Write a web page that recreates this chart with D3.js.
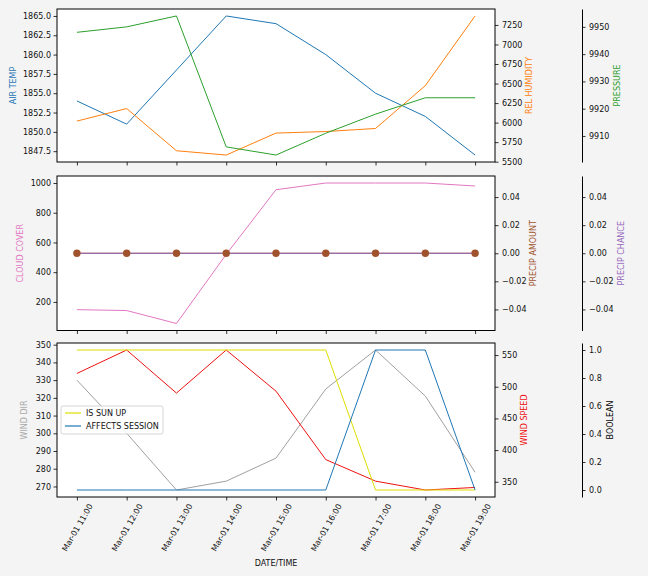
<!DOCTYPE html>
<html><head><meta charset="utf-8">
<script src="https://cdn.jsdelivr.net/npm/d3@7"></script>
<style>
body{margin:0;background:#f4f4f4}
svg{display:block}
text{font-family:"DejaVu Sans",sans-serif}
</style>
</head><body>
<svg id="c" width="648" height="576"></svg>
<script>
// ---------------- data ----------------
const times = ["Mar-01 11:00","Mar-01 12:00","Mar-01 13:00","Mar-01 14:00","Mar-01 15:00","Mar-01 16:00","Mar-01 17:00","Mar-01 18:00","Mar-01 19:00"];
const airTemp       = [1854, 1851, 1858, 1865, 1864, 1860, 1855, 1852, 1847];
const relHumidity   = [6020, 6180, 5640, 5585, 5866, 5886, 5925, 6473, 7365];
const pressure      = [9948, 9950, 9954, 9906, 9903, 9911, 9918, 9924, 9924];
const cloudCover    = [148, 142, 55, 520, 955, 1000, 1000, 1000, 980];
const precipAmount  = [0, 0, 0, 0, 0, 0, 0, 0, 0];
const precipChance  = [0, 0, 0, 0, 0, 0, 0, 0, 0];
const windDir       = [330, 300, 268, 273, 286, 325, 347, 321, 278];
const windSpeed     = [521, 558, 490, 558, 493, 385, 351, 337, 341];
const isSunUp       = [1, 1, 1, 1, 1, 1, 0, 0, 0];
const affectsSession= [0, 0, 0, 0, 0, 0, 1, 1, 0];

const airTempTicks   = [1847.5, 1850.0, 1852.5, 1855.0, 1857.5, 1860.0, 1862.5, 1865.0];
const humidityTicks  = [5500, 5750, 6000, 6250, 6500, 6750, 7000, 7250];
const pressureTicks  = [9910, 9920, 9930, 9940, 9950];
const cloudTicks     = [200, 400, 600, 800, 1000];
const precipTicks    = [-0.04, -0.02, 0.00, 0.02, 0.04];
const windDirTicks   = [270, 280, 290, 300, 310, 320, 330, 340, 350];
const windSpeedTicks = [350, 400, 450, 500, 550];
const boolTicks      = [0.0, 0.2, 0.4, 0.6, 0.8, 1.0];

// ---------------- layout ----------------
const svg = d3.select("#c");
const L = 57, R = 495, X3 = 582;
const panels = [{top: 9, bottom: 162}, {top: 176, bottom: 330.5}, {top: 343, bottom: 497}];
const FONT = 8;

const x = d3.scalePoint().domain(times).range([L, R]).padding(0.4);

function padDomain(vals) {
  let lo = d3.min(vals), hi = d3.max(vals);
  if (lo === hi) { lo -= 0.05; hi += 0.05; }
  const m = (hi - lo) * 0.05;
  return [lo - m, hi + m];
}
const minus = s => s.replace("-", "\u2212");

function styleAxis(g) {
  g.attr("font-family", "DejaVu Sans").attr("font-size", FONT);
  g.selectAll(".tick line").attr("stroke", "#000").attr("stroke-width", 0.8);
  g.selectAll(".tick text").attr("fill", "#111");
}

function yLabel(text, xPos, p, color) {
  svg.append("text")
    .attr("transform", `translate(${xPos},${(p.top + p.bottom) / 2}) rotate(-90)`)
    .attr("text-anchor", "middle").attr("dominant-baseline", "central")
    .attr("font-size", FONT).attr("fill", color).text(text);
}

function line(g, y, vals, color, w = 1) {
  g.append("path")
    .datum(vals)
    .attr("fill", "none").attr("stroke", color).attr("stroke-width", w)
    .attr("stroke-linejoin", "round")
    .attr("d", d3.line().x((d, i) => x(times[i])).y(d => y(d)));
}

// panel backgrounds
panels.forEach(p => {
  svg.append("rect").attr("x", L).attr("y", p.top).attr("width", R - L).attr("height", p.bottom - p.top).attr("fill", "#fff");
});

const cfg = [
  {
    left:  {vals: airTemp, ticks: airTempTicks, fmt: d3.format(".1f"), label: "AIR TEMP", color: "#1f77b4", lx: 13},
    right: {vals: relHumidity, ticks: humidityTicks, fmt: d3.format("d"), label: "REL HUMIDITY", color: "#ff7f0e", lx: 529},
    third: {vals: pressure, ticks: pressureTicks, fmt: d3.format("d"), label: "PRESSURE", color: "#2ca02c", lx: 617}
  },
  {
    left:  {vals: cloudCover, ticks: cloudTicks, fmt: d3.format("d"), label: "CLOUD COVER", color: "#e377c2", lx: 20},
    right: {vals: precipAmount, ticks: precipTicks, fmt: d => minus(d3.format(".2f")(d)), label: "PRECIP AMOUNT", color: "#a0522d", lx: 533},
    third: {vals: precipChance, ticks: precipTicks, fmt: d => minus(d3.format(".2f")(d)), label: "PRECIP CHANCE", color: "#9467bd", lx: 621}
  },
  {
    left:  {vals: windDir, ticks: windDirTicks, fmt: d3.format("d"), label: "WIND DIR", color: "#a9a9a9", lx: 24},
    right: {vals: windSpeed, ticks: windSpeedTicks, fmt: d3.format("d"), label: "WIND SPEED", color: "#ee1111", lx: 524},
    third: {vals: [0, 1], ticks: boolTicks, fmt: d3.format(".1f"), label: "BOOLEAN", color: "#000", lx: 610}
  }
];

cfg.forEach((c, pi) => {
  const p = panels[pi];
  const yl = d3.scaleLinear().domain(padDomain(c.left.vals)).range([p.bottom, p.top]);
  const yr = d3.scaleLinear().domain(padDomain(c.right.vals)).range([p.bottom, p.top]);
  const y3 = d3.scaleLinear().domain(padDomain(c.third.vals)).range([p.bottom, p.top]);
  const g = svg.append("g");

  if (pi === 0) {
    line(g, yl, airTemp, "#1f77b4");
    line(g, yr, relHumidity, "#ff7f0e");
    line(g, y3, pressure, "#2ca02c");
  } else if (pi === 1) {
    line(g, yl, cloudCover, "#e377c2");
    line(g, yr, precipAmount, "#a0522d");
    line(g, y3, precipChance, "#9467bd");
    g.selectAll("circle").data(precipAmount).join("circle")
      .attr("cx", (d, i) => x(times[i])).attr("cy", d => yr(d)).attr("r", 3.7).attr("fill", "#a0522d");
  } else {
    line(g, yl, windDir, "#a0a0a0");
    line(g, yr, windSpeed, "#ee1111");
    line(g, y3, isSunUp, "#dede00");
    line(g, y3, affectsSession, "#1f77b4");
  }

  // frame
  svg.append("rect").attr("x", L).attr("y", p.top).attr("width", R - L).attr("height", p.bottom - p.top)
    .attr("fill", "none").attr("stroke", "#000").attr("stroke-width", 1);

  const ga = svg.append("g").attr("transform", `translate(${L},0)`)
    .call(d3.axisLeft(yl).tickValues(c.left.ticks).tickFormat(c.left.fmt).tickSize(3.5).tickPadding(2.5).tickSizeOuter(0));
  ga.select(".domain").remove(); styleAxis(ga);
  const gb = svg.append("g").attr("transform", `translate(${R},0)`)
    .call(d3.axisRight(yr).tickValues(c.right.ticks).tickFormat(c.right.fmt).tickSize(3.5).tickPadding(3.5).tickSizeOuter(0));
  gb.select(".domain").remove(); styleAxis(gb);
  const gc = svg.append("g").attr("transform", `translate(${X3},0)`)
    .call(d3.axisRight(y3).tickValues(c.third.ticks).tickFormat(c.third.fmt).tickSize(3.5).tickPadding(3.5).tickSizeOuter(0));
  gc.select(".domain").attr("stroke", "#000").attr("stroke-width", 1); styleAxis(gc);

  const gx = svg.append("g").attr("transform", `translate(0,${p.bottom})`)
    .call(d3.axisBottom(x).tickSize(3.5).tickSizeOuter(0));
  gx.select(".domain").remove(); styleAxis(gx);
  if (pi < 2) {
    gx.selectAll(".tick text").remove();
  } else {
    gx.selectAll(".tick text")
      .attr("y", 0).attr("dy", "0.35em").attr("text-anchor", "middle")
      .attr("transform", "translate(0,30.5) rotate(-60)");
  }

  yLabel(c.left.label, c.left.lx, p, c.left.color);
  yLabel(c.right.label, c.right.lx, p, c.right.color);
  yLabel(c.third.label, c.third.lx, p, c.third.color);
});

// x label
svg.append("text").attr("x", (L + R) / 2).attr("y", 566).attr("text-anchor", "middle")
  .attr("font-size", FONT).attr("fill", "#111").text("DATE/TIME");

// legend
const legendItems = [{name: "IS SUN UP", color: "#dede00"}, {name: "AFFECTS SESSION", color: "#1f77b4"}];
const lg = svg.append("g");
lg.append("rect").attr("x", 61).attr("y", 406).attr("width", 102).attr("height", 28).attr("rx", 2)
  .attr("fill", "#fff").attr("fill-opacity", 0.8).attr("stroke", "#cccccc").attr("stroke-width", 0.8);
legendItems.forEach((it, i) => {
  const yy = 413 + i * 13;
  lg.append("line").attr("x1", 65).attr("x2", 81).attr("y1", yy).attr("y2", yy).attr("stroke", it.color).attr("stroke-width", 1.2);
  lg.append("text").attr("x", 86).attr("y", yy).attr("dominant-baseline", "central").attr("font-size", FONT).attr("fill", "#111").text(it.name);
});
</script>
</body></html>
